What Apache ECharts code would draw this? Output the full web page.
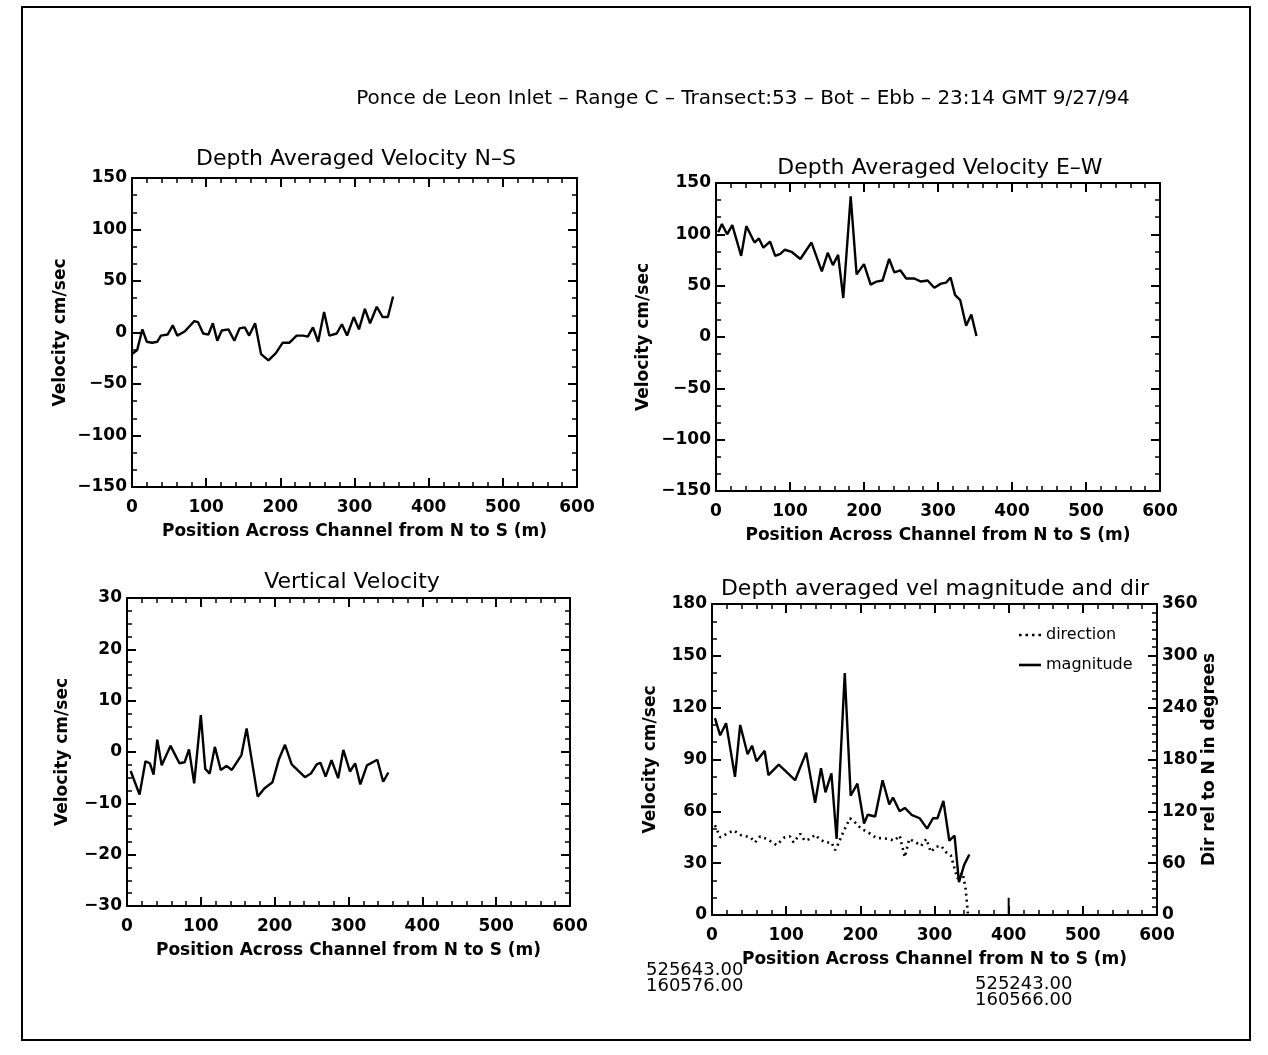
<!DOCTYPE html>
<html>
<head>
<meta charset="utf-8">
<script src="https://cdn.jsdelivr.net/npm/echarts@6/dist/echarts.min.js"></script>
<style>
html,body{margin:0;padding:0;background:#fff;}
#chart{width:1268px;height:1055px;}
</style>
</head>
<body>
<div id="chart"></div>
<script>
// ---------- DATA ----------
const mainTitle = 'Ponce de Leon Inlet \u2013 Range C \u2013 Transect:53 \u2013 Bot \u2013 Ebb \u2013 23:14 GMT 9/27/94';
const panelTitles = ['Depth Averaged Velocity N\u2013S', 'Depth Averaged Velocity E\u2013W', 'Vertical Velocity', 'Depth averaged vel magnitude and dir'];
const xName = 'Position Across Channel from N to S (m)';
const yName = 'Velocity cm/sec';
const yNameRight = 'Dir rel to N in degrees';
const startCoords = ['525643.00', '160576.00'];
const endCoords = ['525243.00', '160566.00'];

// Panel 1: N-S depth averaged velocity
const nsPos = [0,7,14,20,27,34,39,48,55,61,71,84,89,96,103,109,115,121,130,138,145,152,158,166,174,184,194,203,212,222,231,237,244,251,259,266,276,283,290,299,306,314,321,330,338,345,352];
const nsVal = [-21,-17,3,-9,-10,-9,-3,-2,7,-3,1,11,10,-1,-2,9,-8,2,3,-8,4,5,-3,9,-21,-27,-20,-10,-10,-3,-3,-4,5,-9,20,-3,-1,8,-3,15,3,23,9,25,15,15,35];

// Panel 2: E-W depth averaged velocity
const ewPos = [3,8,15,22,34,41,52,58,64,73,80,87,93,102,114,129,143,151,158,165,172,182,190,200,209,217,225,234,241,249,257,268,277,286,295,304,311,317,323,330,338,345,352];
const ewVal = [102,110,100,109,79,108,92,96,87,93,79,81,85,83,76,92,64,82,70,80,38,137,61,71,51,54,55,76,63,65,57,57,54,55,48,52,53,58,41,36,11,22,1];

// Panel 3: vertical velocity
const vvPos = [5,17,25,31,36,41,47,59,71,78,84,91,100,106,112,119,127,135,142,155,162,177,186,197,206,214,223,241,249,257,262,269,277,286,293,302,309,316,325,339,347,354];
const vvVal = [-3.7,-8.3,-1.8,-2.2,-4.4,2.4,-2.6,1.2,-2.2,-2.0,0.5,-6.1,7.2,-3.3,-4.2,1.0,-3.5,-2.7,-3.5,-0.6,4.6,-8.7,-7.1,-5.9,-1.3,1.4,-2.4,-4.9,-4.2,-2.4,-2.1,-4.8,-1.6,-5.1,0.4,-3.8,-2.2,-6.3,-2.6,-1.5,-5.8,-4.0];

// Panel 4: magnitude (left axis) and direction (right axis)
const magPos = [4,11,19,31,38,48,54,60,71,76,90,112,127,139,147,153,161,168,179,187,196,205,210,220,230,239,244,253,260,269,280,290,298,304,312,320,327,333,340,347];
const magVal = [114,104,111,80,110,93,98,89,95,81,87,78,94,65,85,71,82,44,140,69,76,53,58,57,78,64,68,60,62,58,56,50,56,56,66,43,46,19,29,35];
const dirPos = [4,11,20,29,40,52,58,65,74,87,98,105,110,119,125,132,139,145,153,161,166,170,177,186,192,201,210,222,230,239,246,253,260,266,275,282,289,295,302,309,315,322,331,338,342,345];
const dirVal = [104,90,94,98,92,90,84,91,88,81,90,91,84,94,86,88,93,88,84,84,75,82,96,112,108,100,96,89,89,88,86,92,67,88,84,80,88,73,79,80,73,69,42,49,30,2];
const markPos = [400,400];
const markVal = [0,10];

// ---------- CHART ----------
const FONT = 'DejaVu Sans';
const BLACK = '#000';
const zip = (a,b) => a.map((v,i) => [v, b[i]]);
const minusFmt = v => String(v).replace('-', '\u2212');

const grids = [
  {left:132, top:178, width:445, height:309},
  {left:716, top:183, width:444, height:308},
  {left:127, top:598, width:443, height:308},
  {left:712, top:604, width:445, height:311}
];

const axisLine = {show:true, onZero:false, lineStyle:{color:BLACK, width:2}};
const tickStyle = {show:true, inside:true, length:9, lineStyle:{color:BLACK, width:2}};
const minorStyle = n => ({show:true, splitNumber:n, length:5, lineStyle:{color:BLACK, width:1.5}});
const labelStyle = {color:BLACK, fontFamily:FONT, fontSize:17, fontWeight:'bold', formatter:minusFmt};
const nameStyle = {color:BLACK, fontFamily:FONT, fontSize:17, fontWeight:'bold'};

const xAxes = [], yAxes = [];
grids.forEach((g, i) => {
  xAxes.push({
    gridIndex:i, type:'value', min:0, max:600, interval:100, position:'bottom',
    axisLine, axisTick:tickStyle, minorTick:minorStyle(5), splitLine:{show:false},
    axisLabel:Object.assign({margin:12}, labelStyle),
    name:xName, nameLocation:'middle', nameGap:36, nameTextStyle:nameStyle
  });
  xAxes.push({
    gridIndex:i, type:'value', min:0, max:600, interval:100, position:'top',
    axisLine, axisTick:tickStyle, minorTick:minorStyle(5), splitLine:{show:false},
    axisLabel:{show:false}
  });
});

const yDefs = [
  {min:-150, max:150, interval:50, minor:3, gap:63},
  {min:-150, max:150, interval:50, minor:3, gap:64},
  {min:-30, max:30, interval:10, minor:4, gap:56},
  {min:0, max:180, interval:30, minor:3, gap:53}
];
yDefs.forEach((d, i) => {
  yAxes.push({
    gridIndex:i, type:'value', min:d.min, max:d.max, interval:d.interval, position:'left',
    axisLine, axisTick:tickStyle, minorTick:minorStyle(d.minor), splitLine:{show:false},
    axisLabel:Object.assign({margin:5}, labelStyle),
    name:yName, nameLocation:'middle', nameGap:d.gap, nameRotate:90, nameTextStyle:nameStyle
  });
  if (i < 3) {
    yAxes.push({
      gridIndex:i, type:'value', min:d.min, max:d.max, interval:d.interval, position:'right',
      axisLine, axisTick:tickStyle, minorTick:minorStyle(d.minor), splitLine:{show:false},
      axisLabel:{show:false}
    });
  } else {
    yAxes.push({
      gridIndex:i, type:'value', min:0, max:360, interval:60, position:'right',
      axisLine, axisTick:tickStyle, minorTick:minorStyle(6), splitLine:{show:false},
      axisLabel:Object.assign({margin:5}, labelStyle),
      name:yNameRight, nameLocation:'middle', nameGap:44, nameRotate:90, nameTextStyle:nameStyle
    });
  }
});
// yAxis indices: panel i -> left 2i, right 2i+1 ; xAxis: bottom 2i, top 2i+1

const lineSeries = (name, xi, yi, data, extra) => Object.assign({
  name, type:'line', xAxisIndex:xi, yAxisIndex:yi, data, symbol:'none', showSymbol:false,
  lineStyle:{color:BLACK, width:2.4}, itemStyle:{color:BLACK}, animation:false, z:5
}, extra || {});

const series = [
  lineSeries('ns', 0, 0, zip(nsPos, nsVal)),
  lineSeries('ew', 2, 2, zip(ewPos, ewVal)),
  lineSeries('vv', 4, 4, zip(vvPos, vvVal)),
  lineSeries('direction', 6, 7, zip(dirPos, dirVal), {lineStyle:{color:BLACK, width:2.6, type:[2,4]}}),
  lineSeries('magnitude', 6, 6, zip(magPos, magVal)),
  lineSeries('mark', 6, 6, zip(markPos, markVal), {lineStyle:{color:BLACK, width:2}})
];

const txt = (text, x, y, size, weight, align) => ({
  type:'text', x, y, silent:true,
  style:{text, fill:BLACK, font:(weight||'normal') + ' ' + size + 'px "DejaVu Sans"',
         align:align||'center', textAlign:align||'center', verticalAlign:'middle', textVerticalAlign:'middle'}
});

const graphics = [
  {type:'rect', silent:true, shape:{x:22, y:7, width:1228, height:1033}, style:{fill:'none', stroke:BLACK, lineWidth:2}},
  txt(mainTitle, 743, 99, 20, 'normal'),
  txt(panelTitles[0], 356, 159, 22, 'normal'),
  txt(panelTitles[1], 940, 168, 22, 'normal'),
  txt(panelTitles[2], 352, 582, 22, 'normal'),
  txt(panelTitles[3], 935, 589, 22, 'normal'),
  txt(startCoords[0], 646, 970, 18, 'normal', 'left'),
  txt(startCoords[1], 646, 986, 18, 'normal', 'left'),
  txt(endCoords[0], 975, 984, 18, 'normal', 'left'),
  txt(endCoords[1], 975, 1000, 18, 'normal', 'left')
];

const chart = echarts.init(document.getElementById('chart'), null, {renderer:'canvas'});
chart.setOption({
  backgroundColor:'#fff',
  animation:false,
  grid:grids,
  xAxis:xAxes,
  yAxis:yAxes,
  legend:{
    data:[
      {name:'direction', icon:'path://M0,0h2v2h-2z M5,0h2v2h-2z M10,0h2v2h-2z M15,0h2v2h-2z'},
      {name:'magnitude', icon:'rect'}
    ],
    orient:'vertical', left:1014, top:622, itemGap:14,
    itemWidth:22, itemHeight:2.6,
    textStyle:{color:BLACK, fontFamily:FONT, fontSize:16, fontWeight:'normal'},
    selectedMode:false
  },
  series,
  graphic:graphics
});
</script>
</body>
</html>
